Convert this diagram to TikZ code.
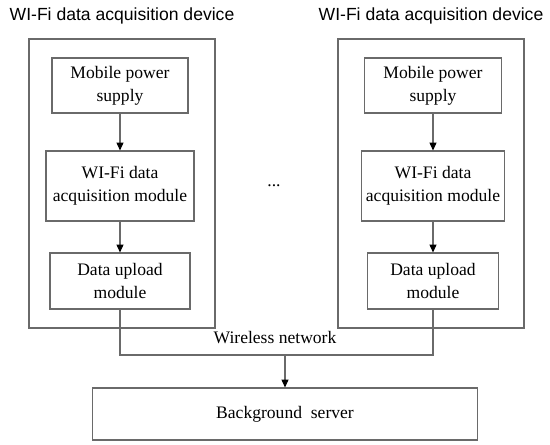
\documentclass[tikz,border=0pt]{standalone}
\usepackage{fontspec}
\setmainfont{Liberation Serif}
\newfontfamily\titlefont{Liberation Sans}
\usetikzlibrary{positioning,arrows.meta}
\definecolor{linegray}{HTML}{6A6A6A}
\tikzset{
  blk/.style={draw=linegray,line width=0.6pt,inner sep=0pt,align=center,
    font=\fontsize{10}{13}\selectfont,minimum height=1.10cm},
  devbox/.style={draw=linegray,line width=0.6pt,inner sep=0pt,
    minimum width=3.72cm,minimum height=5.78cm},
  devtitle/.style={inner sep=0pt,font=\titlefont\fontsize{10}{12}\selectfont},
  arr/.style={draw=linegray,line width=0.6pt,-{Triangle[length=4.5pt,width=4pt,color=black]}}
}
\begin{document}
\begin{tikzpicture}[x=1cm,y=1cm]
  \useasboundingbox (0,0) rectangle (11,8.88);
  % the two devices
  \node[devbox] (devL) at (2.44,5.21) {};
  \node[devbox] (devR) at (8.62,5.21) {};
  \node[devtitle,above=0.28cm of devL] (titleL) {WI-Fi data acquisition device};
  \node[devtitle,above=0.28cm of devR] (titleR) {WI-Fi data acquisition device};
  % left column
  \node[blk,minimum width=2.72cm] (powerL) at (2.40,7.17) {Mobile power\\supply};
  \node[blk,minimum width=2.96cm,minimum height=1.40cm] (wifiL) at (2.40,5.16) {WI-Fi data\\acquisition module};
  \node[blk,minimum width=2.80cm,minimum height=1.12cm] (uploadL) at (2.40,3.26) {Data upload\\module};
  % right column
  \node[blk,minimum width=2.74cm] (powerR) at (8.66,7.17) {Mobile power\\supply};
  \node[blk,minimum width=2.86cm,minimum height=1.40cm] (wifiR) at (8.66,5.16) {WI-Fi data\\acquisition module};
  \node[blk,minimum width=2.62cm,minimum height=1.12cm] (uploadR) at (8.66,3.26) {Data upload\\module};
  \node[font=\fontsize{10}{12}\selectfont] (dots) at (5.48,5.16) {...};
  % server
  \node[blk,minimum width=7.70cm,minimum height=1.04cm] (server) at (5.70,0.60) {Background\ \ server};
  \node[font=\fontsize{10}{12}\selectfont,inner sep=0pt] (net) at (5.50,2.12) {Wireless network};
  \coordinate (join) at (5.70,1.78);
  \draw[arr] (powerL) -- (wifiL);
  \draw[arr] (wifiL) -- (uploadL);
  \draw[arr] (powerR) -- (wifiR);
  \draw[arr] (wifiR) -- (uploadR);
  \draw[draw=linegray,line width=0.6pt] (uploadL.south) |- (join) -| (uploadR.south);
  \draw[arr] (join) -- (server);
\end{tikzpicture}
\end{document}
